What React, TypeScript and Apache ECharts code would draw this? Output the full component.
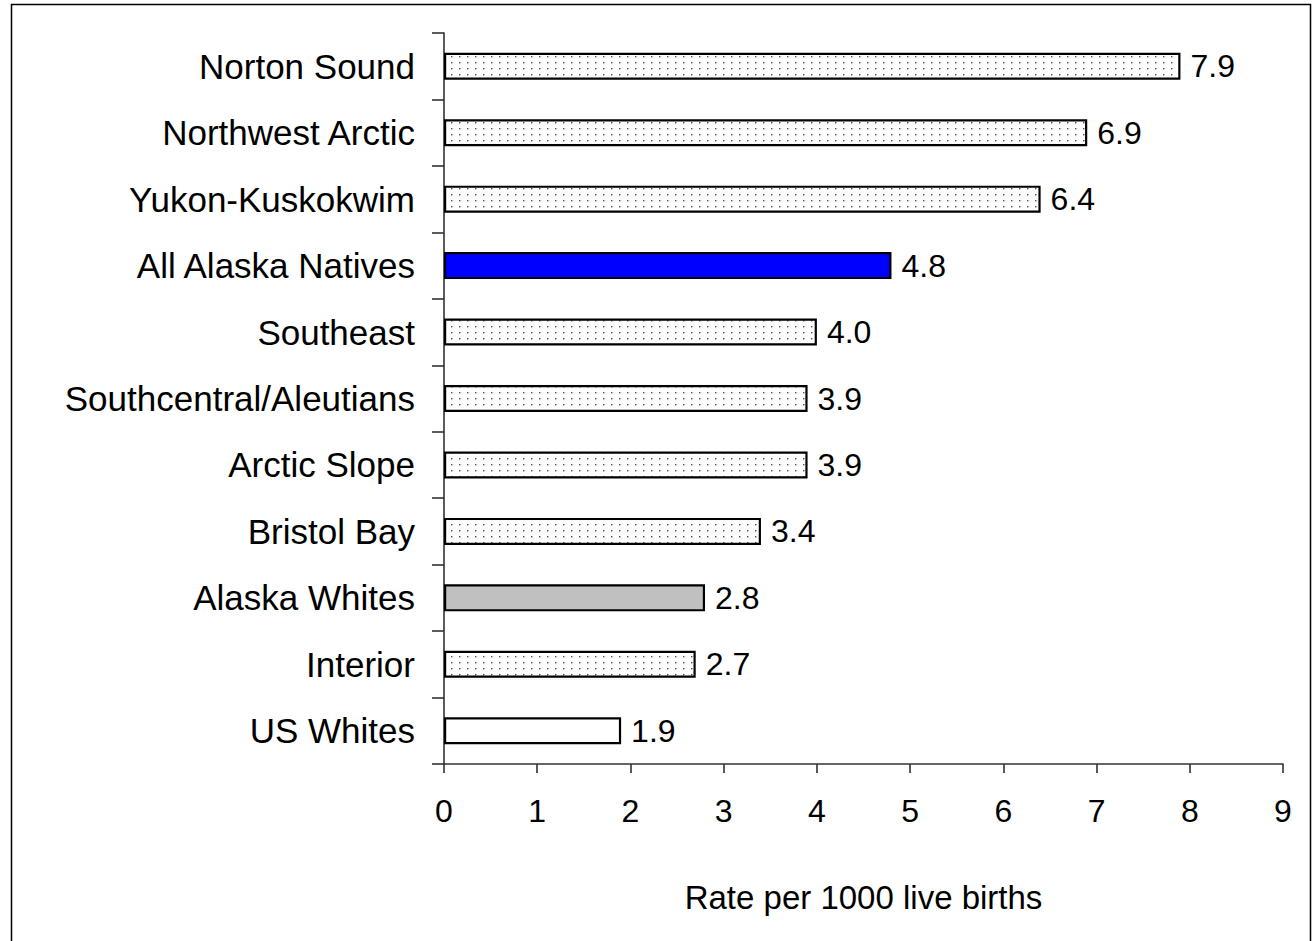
import React, { useEffect, useRef } from "react";
import * as echarts from "echarts";

const categories = [
  "Norton Sound",
  "Northwest Arctic",
  "Yukon-Kuskokwim",
  "All Alaska Natives",
  "Southeast",
  "Southcentral/Aleutians",
  "Arctic Slope",
  "Bristol Bay",
  "Alaska Whites",
  "Interior",
  "US Whites",
];
const rates = [7.9, 6.9, 6.4, 4.8, 4.0, 3.9, 3.9, 3.4, 2.8, 2.7, 1.9];
const fills = ["dots", "dots", "dots", "blue", "dots", "dots", "dots", "dots", "gray", "dots", "white"];
const xTicks = [0, 1, 2, 3, 4, 5, 6, 7, 8, 9];
const xTitle = "Rate per 1000 live births";

function makeDots(): HTMLCanvasElement {
  const c = document.createElement("canvas");
  c.width = 8;
  c.height = 6;
  const ctx = c.getContext("2d")!;
  ctx.fillStyle = "#ffffff";
  ctx.fillRect(0, 0, 8, 6);
  ctx.fillStyle = "#4a4a4a";
  ctx.fillRect(3, 2, 1.4, 1.4);
  return c;
}

export default function App() {
  const ref = useRef<HTMLDivElement>(null);
  useEffect(() => {
    if (!ref.current) return;
    const chart = echarts.init(ref.current, null, { renderer: "svg" });
    const dots = makeDots();
    const colorFor = (f: string): any => {
      if (f === "blue") return "#0000ff";
      if (f === "gray") return "#c0c0c0";
      if (f === "white") return "#ffffff";
      return { image: dots, repeat: "repeat" };
    };
    const font = "Arial, 'Liberation Sans', Helvetica, sans-serif";
    chart.setOption({
      animation: false,
      backgroundColor: "#ffffff",
      grid: { left: 444, right: 32, top: 33, bottom: 177, containLabel: false },
      xAxis: {
        type: "value",
        min: 0,
        max: 9,
        interval: 1,
        axisLine: { show: true, lineStyle: { color: "#333333", width: 1.6 } },
        axisTick: { show: true, length: 9, inside: false, lineStyle: { color: "#333333", width: 1.6 } },
        splitLine: { show: false },
        axisLabel: {
          margin: 31,
          fontSize: 32,
          color: "#000",
          fontFamily: font,
          formatter: (v: number) => (xTicks.includes(v) ? String(v) : ""),
        },
        name: xTitle,
        nameLocation: "middle",
        nameGap: 117,
        nameTextStyle: { fontSize: 33, color: "#000", fontFamily: font, verticalAlign: "top" },
      },
      yAxis: {
        type: "category",
        inverse: true,
        data: categories,
        axisLine: { show: true, lineStyle: { color: "#333333", width: 1.6 } },
        axisTick: { show: true, length: 12, inside: false, alignWithLabel: false, lineStyle: { color: "#333333", width: 1.6 } },
        axisLabel: { margin: 29, fontSize: 35, color: "#000", fontFamily: font },
        splitLine: { show: false },
      },
      series: [
        {
          type: "bar",
          barWidth: 27,
          data: rates.map((v, i) => ({
            value: v,
            itemStyle: { color: colorFor(fills[i]), borderColor: "#000", borderWidth: 2.2 },
          })),
          label: {
            show: true,
            position: "right",
            distance: 10,
            fontSize: 32,
            color: "#000",
            fontFamily: font,
            formatter: (p: any) => Number(p.value).toFixed(1),
          },
        },
      ],
      graphic: [
        {
          type: "rect",
          silent: true,
          shape: { x: 11.5, y: 4.5, width: 1299, height: 1000 },
          style: { fill: "none", stroke: "#000", lineWidth: 1.5 },
          z: 100,
        },
      ],
    });
    return () => chart.dispose();
  }, []);
  return (
    <div
      ref={ref}
      style={{ position: "absolute", left: 0, top: 0, width: 1315, height: 941, overflow: "hidden" }}
    />
  );
}
